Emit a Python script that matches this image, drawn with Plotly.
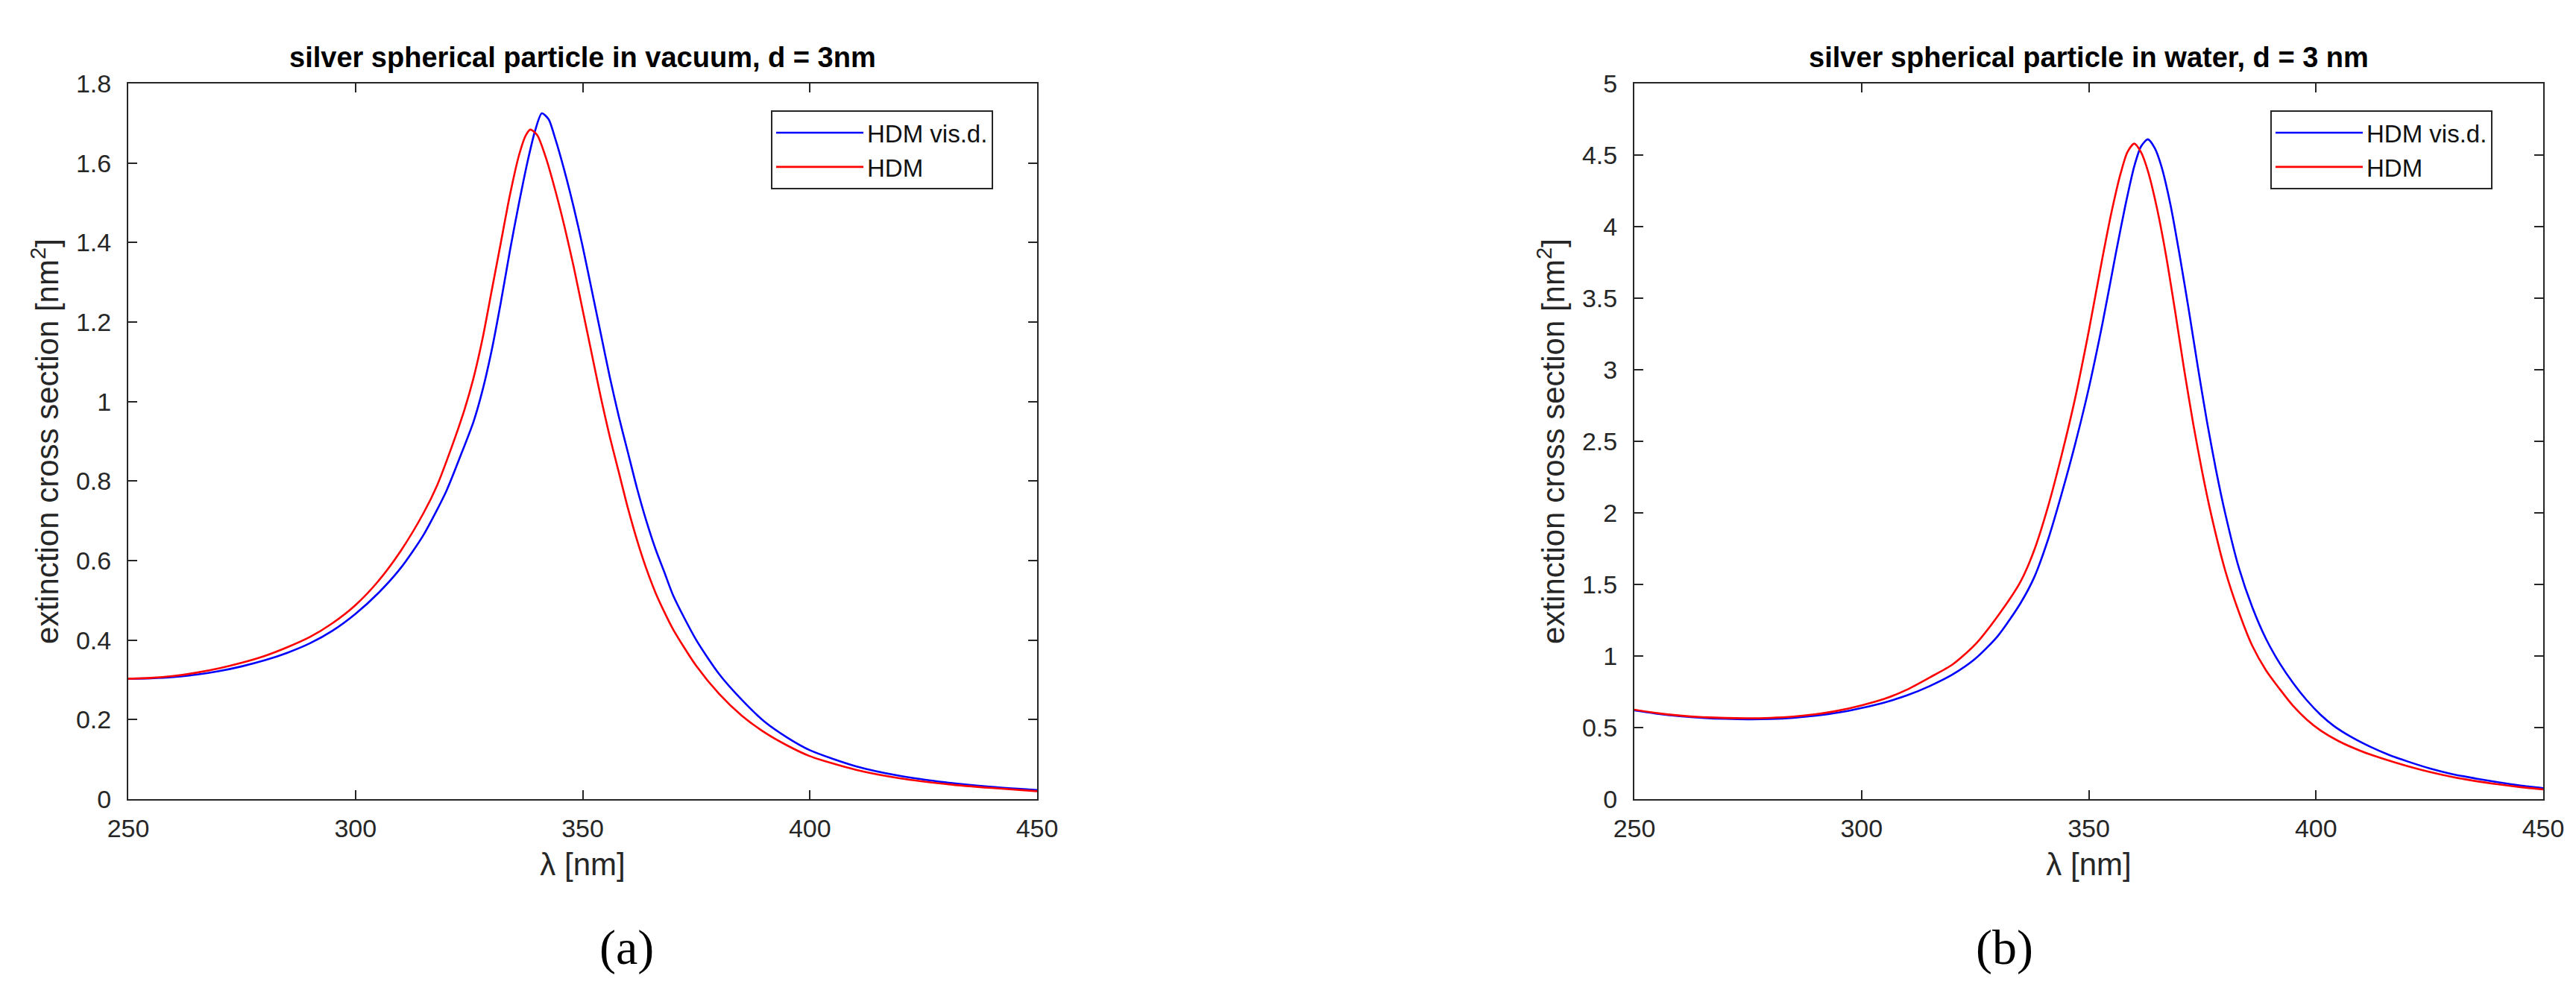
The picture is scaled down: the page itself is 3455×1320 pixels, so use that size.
import plotly.graph_objects as go

# ---------------- data: panel (a) silver particle in vacuum ----------------
wl_a_visd = [250, 255, 260, 265, 270, 275, 280, 285, 290, 295, 300, 305, 310, 315, 320,
             323, 326, 328, 330, 332, 334, 336, 338, 339.5, 341, 342.5, 344, 346, 348, 350,
             352, 354, 356, 358, 360, 362, 364, 366, 368, 370, 375, 380, 385, 390, 395,
             400, 410, 420, 430, 440, 450]
ext_a_visd = [0.303, 0.304, 0.307, 0.313, 0.322, 0.334, 0.349, 0.368, 0.392, 0.424, 0.466,
              0.518, 0.582, 0.665, 0.775, 0.86, 0.95, 1.03, 1.13, 1.25, 1.38, 1.50, 1.61,
              1.68, 1.725, 1.71, 1.66, 1.58, 1.49, 1.39, 1.28, 1.17, 1.06, 0.96, 0.87, 0.78,
              0.70, 0.63, 0.57, 0.51, 0.40, 0.315, 0.25, 0.195, 0.155, 0.123, 0.083, 0.058,
              0.042, 0.031, 0.023]

wl_a_hdm = [250, 255, 260, 265, 270, 275, 280, 285, 290, 295, 300, 305, 310, 315, 318,
            321, 324, 326, 328, 330, 332, 334, 336, 337.5, 338.5, 340, 342, 344, 346, 348,
            350, 352, 354, 356, 358, 360, 362, 364, 366, 368, 370, 375, 380, 385, 390, 395,
            400, 410, 420, 430, 440, 450]
ext_a_hdm = [0.303, 0.305, 0.31, 0.318, 0.329, 0.343, 0.36, 0.382, 0.408, 0.443, 0.488,
             0.548, 0.625, 0.72, 0.79, 0.88, 0.98, 1.06, 1.16, 1.28, 1.40, 1.52, 1.62, 1.67,
             1.684, 1.67, 1.61, 1.53, 1.44, 1.34, 1.23, 1.12, 1.01, 0.91, 0.82, 0.73, 0.65,
             0.58, 0.52, 0.47, 0.425, 0.335, 0.265, 0.21, 0.168, 0.135, 0.108, 0.074, 0.052,
             0.038, 0.028, 0.02]

# ---------------- data: panel (b) silver particle in water ----------------
wl_b_visd = [250, 255, 260, 265, 270, 275, 280, 285, 290, 295, 300, 305, 310, 315, 320,
             325, 330, 335, 338, 341, 344, 347, 350, 353, 356, 358, 360, 361.5, 363, 364.5,
             366, 368, 370, 372, 374, 376, 378, 380, 383, 386, 389, 392, 395, 398, 401,
             404, 408, 412, 416, 420, 425, 430, 435, 440, 445, 450]
ext_b_visd = [0.62, 0.597, 0.58, 0.568, 0.561, 0.558, 0.56, 0.568, 0.583, 0.605, 0.637,
              0.675, 0.725, 0.79, 0.87, 0.98, 1.14, 1.37, 1.55, 1.81, 2.13, 2.48, 2.87, 3.32,
              3.82, 4.14, 4.42, 4.56, 4.61, 4.55, 4.42, 4.15, 3.80, 3.42, 3.02, 2.64, 2.30,
              2.0, 1.62, 1.34, 1.12, 0.95, 0.81, 0.69, 0.59, 0.51, 0.43, 0.365, 0.31, 0.265,
              0.215, 0.175, 0.145, 0.118, 0.095, 0.077]

wl_b_hdm = [250, 255, 260, 265, 270, 275, 280, 285, 290, 295, 300, 305, 310, 315, 320,
            325, 330, 335, 338, 341, 344, 347, 350, 353, 355, 357, 358.5, 360, 361.5, 363,
            365, 367, 369, 371, 373, 375, 377, 380, 383, 386, 389, 392, 395, 398, 401, 405,
            410, 415, 420, 425, 430, 435, 440, 445, 450]
ext_b_hdm = [0.625, 0.601, 0.584, 0.573, 0.567, 0.565, 0.568, 0.577, 0.594, 0.619, 0.655,
             0.70, 0.765, 0.85, 0.94, 1.08, 1.28, 1.52, 1.74, 2.04, 2.40, 2.80, 3.27, 3.78,
             4.10, 4.37, 4.52, 4.58, 4.52, 4.39, 4.13, 3.80, 3.41, 3.0, 2.62, 2.28, 1.98,
             1.60, 1.31, 1.07, 0.90, 0.77, 0.65, 0.555, 0.48, 0.405, 0.335, 0.28, 0.232,
             0.19, 0.155, 0.127, 0.104, 0.084, 0.068]

series_names = ["HDM vis.d.", "HDM"]
series_colors = ["#0000FF", "#FF0000"]
panel_titles = ["silver spherical particle in vacuum, d = 3nm",
                "silver spherical particle in water, d = 3 nm"]
captions = ["(a)", "(b)"]
x_label = "λ [nm]"
y_label = "extinction cross section [nm<sup>2</sup>]"
x_range = [250, 450]
x_ticks = [250, 300, 350, 400, 450]
y_range_a = [0, 1.8]
y_ticks_a = [0, 0.2, 0.4, 0.6, 0.8, 1, 1.2, 1.4, 1.6, 1.8]
y_range_b = [0, 5]
y_ticks_b = [0, 0.5, 1, 1.5, 2, 2.5, 3, 3.5, 4, 4.5, 5]

# ---------------- figure ----------------
W, H = 3455, 1320
ML, MR, MT, MB = 164, 52, 104, 256
PW = W - ML - MR
PH = H - MT - MB

def px_x(p):
    return (p - ML) / PW

def px_y(p):
    return (H - MB - p) / PH

dom_a = [0.0, px_x(1383)]
dom_b = [px_x(2184), 1.0]

FONT = "Liberation Sans, Arial, Helvetica, sans-serif"
AX = "#262626"
LW = 2.6

fig = go.Figure()

panels = [
    ("x", "y", "legend", [(wl_a_visd, ext_a_visd), (wl_a_hdm, ext_a_hdm)]),
    ("x2", "y2", "legend2", [(wl_b_visd, ext_b_visd), (wl_b_hdm, ext_b_hdm)]),
]
for xa, ya, lg, data in panels:
    for (xs, ys), name, col in zip(data, series_names, series_colors):
        fig.add_trace(go.Scatter(
            x=xs, y=ys, mode="lines", name=name, xaxis=xa, yaxis=ya, legend=lg,
            line=dict(color=col, width=LW, shape="spline", smoothing=0.7),
        ))

def xaxis_cfg(domain, anchor):
    return dict(
        domain=domain, anchor=anchor, range=x_range, tickvals=x_ticks,
        showline=True, linecolor=AX, linewidth=2, mirror="allticks",
        ticks="inside", ticklen=12, tickwidth=2, tickcolor=AX,
        showgrid=False, zeroline=False,
        tickfont=dict(family=FONT, size=34, color=AX),
        ticklabelstandoff=8,
        title=dict(text=x_label, font=dict(family=FONT, size=42, color=AX), standoff=16),
    )

def yaxis_cfg(rng, ticks, anchor):
    return dict(
        domain=[0, 1], anchor=anchor, range=rng, tickvals=ticks,
        showline=True, linecolor=AX, linewidth=2, mirror="allticks",
        ticks="inside", ticklen=12, tickwidth=2, tickcolor=AX,
        showgrid=False, zeroline=False,
        tickfont=dict(family=FONT, size=34, color=AX),
        ticklabelstandoff=14,
        title=dict(text=y_label, font=dict(family=FONT, size=42, color=AX), standoff=10),
    )

legend_common = dict(
    bgcolor="white", bordercolor=AX, borderwidth=2,
    font=dict(family=FONT, size=33, color="#111111"),
    xanchor="left", yanchor="top", itemwidth=117, tracegroupgap=0,
)

fig.update_layout(
    width=W, height=H,
    margin=dict(l=ML, r=MR, t=MT, b=MB),
    paper_bgcolor="white", plot_bgcolor="white",
    showlegend=True,
    xaxis=xaxis_cfg(dom_a, "y"),
    yaxis=yaxis_cfg(y_range_a, y_ticks_a, "x"),
    xaxis2=xaxis_cfg(dom_b, "y2"),
    yaxis2=yaxis_cfg(y_range_b, y_ticks_b, "x2"),
    legend=dict(x=px_x(1026), y=px_y(140), **legend_common),
    legend2=dict(x=px_x(3037), y=px_y(140), **legend_common),
)

for dom, title, cap_x, cap in [(dom_a, panel_titles[0], 832, captions[0]),
                               (dom_b, panel_titles[1], 2680, captions[1])]:
    fig.add_annotation(
        text="<b>%s</b>" % title, xref="paper", yref="paper",
        x=(dom[0] + dom[1]) / 2, y=px_y(69), xanchor="center", yanchor="middle",
        showarrow=False, font=dict(family=FONT, size=38, color="#000000"),
    )
    fig.add_annotation(
        text=cap, xref="paper", yref="paper",
        x=px_x(cap_x), y=px_y(1263), xanchor="center", yanchor="middle",
        showarrow=False, font=dict(family="Liberation Serif, Times New Roman, serif",
                                   size=66, color="#000000"),
    )

fig.write_html("out.html")
